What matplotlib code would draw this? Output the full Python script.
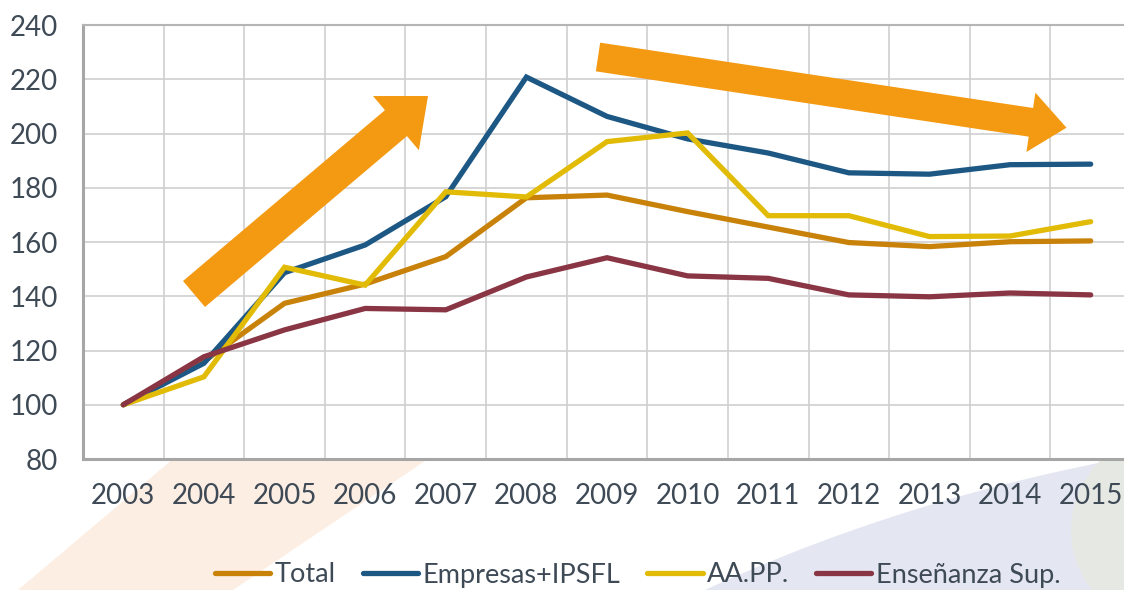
import numpy as np
import matplotlib
matplotlib.use("Agg")
import matplotlib.pyplot as plt
from matplotlib.patches import Polygon, Circle, FancyArrow

years = ["2003", "2004", "2005", "2006", "2007", "2008", "2009",
         "2010", "2011", "2012", "2013", "2014", "2015"]
total = [100, 116, 137.4, 144.5, 154.6, 176.3, 177.3, 171.2, 165.5, 159.8, 158.3, 160.1, 160.4]
empresas = [100, 115.3, 148.7, 158.9, 176.7, 220.8, 206.3, 198.0, 192.8, 185.5, 185.0, 188.5, 188.7]
aapp = [100, 110.3, 150.7, 144.1, 178.5, 176.6, 197.0, 200.2, 169.7, 169.7, 162.0, 162.2, 167.5]
ensenanza = [100, 117.7, 127.6, 135.5, 135.0, 147.1, 154.2, 147.5, 146.6, 140.5, 139.8, 141.2, 140.5]

series = [("Total", total, "#C8820A"),
          ("Empresas+IPSFL", empresas, "#1D5885"),
          ("AA.PP.", aapp, "#E1BB05"),
          ("Enseñanza Sup.", ensenanza, "#8A3544")]

TXT = "#3E4A56"
W, H = 1124, 590
plt.rcParams["font.family"] = ["Lato", "DejaVu Sans"]

fig = plt.figure(figsize=(W / 100, H / 100), dpi=100)


def px(x, y):
    # figure pixel (from top-left) -> inches for dpi_scale_trans
    return (x / 100.0, (H - y) / 100.0)


# decorative background shapes
fig.patches.append(Polygon([px(173, 459), px(428, 459), px(233, 590), px(18, 590)],
                           closed=True, facecolor="#FDEEE3", edgecolor="none",
                           transform=fig.dpi_scale_trans, zorder=-10))
t = np.linspace(0, 1, 30)
cx = (1 - t) ** 2 * 705 + 2 * (1 - t) * t * 900 + t ** 2 * 1124
cy = (1 - t) ** 2 * 590 + 2 * (1 - t) * t * 500 + t ** 2 * 458
swoosh = [px(a, b) for a, b in zip(cx, cy)] + [px(1124, 590)]
fig.patches.append(Polygon(swoosh, closed=True, facecolor="#E4E7F2", edgecolor="none",
                           transform=fig.dpi_scale_trans, zorder=-9))
fig.patches.append(Circle(px(1168, 530), 0.97, facecolor="#E6E8E4", edgecolor="none",
                          transform=fig.dpi_scale_trans, zorder=-8))

ax = fig.add_axes([83 / W, (H - 459) / H, (1131 - 83) / W, (459 - 25) / H])
ax.set_facecolor("white")

x = np.arange(len(years))
for name, vals, col in series:
    ax.plot(x, vals, color=col, lw=3.8, solid_capstyle="round",
            solid_joinstyle="miter", label=name, zorder=3)

ax.set_xlim(-0.5, 12.5)
ax.set_ylim(80, 240)
ax.set_yticks(np.arange(80, 241, 20))
ax.set_xticks(x)
ax.set_xticklabels(years)
ax.set_xticks(np.arange(-0.5, 13, 1), minor=True)
ax.tick_params(which="both", length=0)
ax.tick_params(axis="x", pad=17, labelsize=20, colors=TXT)
ax.tick_params(axis="y", pad=18, labelsize=20, colors=TXT)

ax.grid(which="minor", axis="x", color="#CFCFCF", lw=1.2)
ax.grid(which="major", axis="y", color="#CFCFCF", lw=1.2)
ax.grid(which="major", axis="x", visible=False)
ax.set_axisbelow(True)

ax.spines["left"].set_color("#A6A6A6")
ax.spines["left"].set_linewidth(2.2)
ax.spines["bottom"].set_color("#A6A6A6")
ax.spines["bottom"].set_linewidth(2.2)
ax.spines["top"].set_color("#B5B5B5")
ax.spines["top"].set_linewidth(1.5)
ax.spines["right"].set_visible(False)

# trend arrows (annotation, placed in figure pixels)
ux, uy = px(194, 294)
ax.add_patch(FancyArrow(ux, uy, 2.34, 1.98, width=0.34, head_width=0.71,
                        head_length=0.42, length_includes_head=True,
                        color="#F39A12", lw=0, transform=fig.dpi_scale_trans,
                        clip_on=False, zorder=4))
dx0, dy0 = px(598, 57)
ax.add_patch(FancyArrow(dx0, dy0, 4.685, -0.707, width=0.29, head_width=0.60,
                        head_length=0.36, length_includes_head=True,
                        color="#F39A12", lw=0, transform=fig.dpi_scale_trans,
                        clip_on=False, zorder=4))

handles, labels = ax.get_legend_handles_labels()
leg = fig.legend(handles, labels, loc="center", bbox_to_anchor=(637.5 / W, (H - 575) / H),
                 ncol=4, frameon=False, fontsize=19.5, handlelength=2.05,
                 handletextpad=0.15, columnspacing=1.0, borderaxespad=0)
for tx in leg.get_texts():
    tx.set_color(TXT)

fig.savefig("out.png", dpi=100)
plt.close(fig)
